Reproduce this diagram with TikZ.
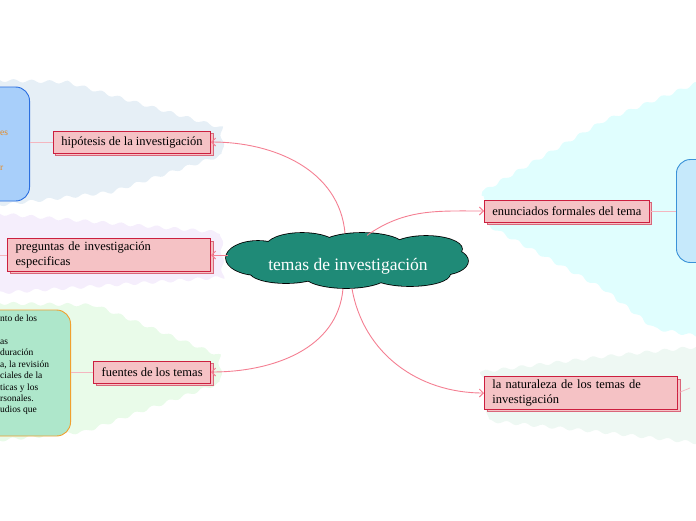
\documentclass[tikz,border=0pt]{standalone}
\usepackage{fontspec}
\setmainfont{Liberation Serif}
\usetikzlibrary{arrows.meta,positioning,shapes.geometric,shadows,decorations.pathmorphing}

\definecolor{rootfill}{HTML}{1F8A77}
\definecolor{boxfill}{HTML}{F5C2C5}
\definecolor{boxline}{HTML}{CC1F3F}
\definecolor{shadowline}{HTML}{D9667A}
\definecolor{linkpink}{HTML}{F47F92}
\definecolor{palepink}{HTML}{F4B6BF}
\definecolor{blobgray}{HTML}{E6EFF6}
\definecolor{blobviolet}{HTML}{F5EEFC}
\definecolor{blobgreen}{HTML}{E9FBE9}
\definecolor{blobcyan}{HTML}{E0FEFE}
\definecolor{blobmint}{HTML}{EEF8F3}
\definecolor{cardblue}{HTML}{A8CFFA}
\definecolor{cardblueline}{HTML}{2B6FE0}
\definecolor{cardgreen}{HTML}{AEE7CB}
\definecolor{cardorange}{HTML}{F0A030}
\definecolor{cardsky}{HTML}{C6E9FB}
\definecolor{cardskyline}{HTML}{3A92D8}
\definecolor{notetext}{HTML}{E88A20}

% puffs of the central cloud: x/y/x radius/y radius
\def\cloudpuffs{258/258/32/17, 302/247/36/14, 362/246/42/13, 426/249/36/13,
    440/261/28/14, 410/274/40/12, 346/275/42/13, 286/272/36/11}

\begin{document}
\begin{tikzpicture}[
    x=1pt, y=-1pt,
    root/.style={
        ellipse,
        text=white,
        minimum width=240pt,
        minimum height=55pt,
        inner sep=0pt,
        text height=18pt,
        text depth=0pt,
        font=\fontsize{17.5}{20}\selectfont
    },
    topic/.style={
        draw=boxline,
        fill=boxfill,
        rectangle,
        line width=0.8pt,
        minimum height=22pt,
        inner xsep=8pt,
        align=left,
        font=\fontsize{12.5}{14.5}\selectfont,
        copy shadow={shadow xshift=2.5pt, shadow yshift=-2.5pt,
            draw=shadowline, fill=boxfill}
    },
    card/.style={
        rectangle,
        rounded corners=14pt,
        line width=0.9pt
    },
    blob/.style={
        decorate,
        decoration={snake, amplitude=1.6pt, segment length=18pt}
    },
    arrow/.style={
        -{Straight Barb[length=4pt]},
        draw=linkpink,
        line width=0.9pt
    },
    link/.style={
        draw=palepink,
        line width=0.7pt
    }
]
\useasboundingbox (0,0) rectangle (696,520);

% Background blobs
\fill[blobgray, blob]   (-10,80) -- (60,82) -- (216,128) -- (218,160) -- (110,196) -- (-10,210) -- cycle;
\fill[blobviolet, blob] (-10,213) -- (216,232) -- (218,280) -- (-10,296) -- cycle;
\fill[blobgreen, blob]  (-10,303) -- (90,305) -- (216,356) -- (218,386) -- (90,432) -- (-10,442) -- cycle;
\fill[blobcyan, blob]   (482,192) -- (600,123) -- (706,80) -- (706,342) -- (650,332) -- (600,293) -- (482,228) -- cycle;
\fill[blobmint, blob]   (480,372) -- (600,357) -- (706,346) -- (706,442) -- (600,430) -- (480,418) -- cycle;

% Cards (cut by the page edge)
\node[card, draw=cardblueline, fill=cardblue, anchor=east,
      minimum width=100pt, minimum height=114pt] at (30,144) (hypcard) {};
\node[card, draw=cardorange, fill=cardgreen, anchor=east,
      minimum width=140pt, minimum height=126pt] at (71,373) (srccard) {};
\node[card, draw=cardskyline, fill=cardsky, anchor=west,
      minimum width=80pt, minimum height=103pt] at (676,211) (stmcard) {};
\coordinate (natcard) at (690,388);

% Card texts
\node[anchor=west, inner sep=0pt, text=notetext, font=\fontsize{9.5}{11}\selectfont]
    at (0,133) (hypnote1) {es};
\node[anchor=west, inner sep=0pt, text=notetext, font=\fontsize{9.5}{11}\selectfont]
    at (0,168) (hypnote2) {r};
\node[anchor=north west, inner sep=0pt, align=left,
      font=\fontsize{9.5}{11.4}\selectfont]
    at (0,315) (srcnote) {nto de los\\[0pt] \\as\\duración\\a, la revisión\\ciales de la\\ticas y los\\rsonales.\\udios que};

% Central topic: outline of the puffs, then their fill
\foreach \cx/\cy/\rx/\ry in \cloudpuffs
    \draw[line width=1.6pt] (\cx,\cy) ellipse [x radius=\rx, y radius=\ry];
\foreach \cx/\cy/\rx/\ry in \cloudpuffs
    \fill[rootfill] (\cx,\cy) ellipse [x radius=\rx, y radius=\ry];
\fill[rootfill] (348,261) ellipse [x radius=100, y radius=18];
\node[root] at (348,261) (main) {temas de investigación};

% Left branches
\node[topic, anchor=east] at (211,142) (hyp) {hipótesis de la investigación};
\node[topic, anchor=east, text width=187pt] at (211,255) (ask) {preguntas de investigación\\especificas};
\node[topic, anchor=east] at (211,372) (src) {fuentes de los temas};

% Right branches
\node[topic, anchor=west] at (484,211) (stm) {enunciados formales del tema};
\node[topic, anchor=west, text width=177pt] at (484,393) (nat) {la naturaleza de los temas de\\investigación};

% Arrows from the central topic
\draw[arrow] ([xshift=-3pt]main.north) to[out=95, in=0] (hyp.east);
\draw[arrow] (main.west |- ask.east) -- (ask.east);
\draw[arrow] ([xshift=-5pt]main.south) to[out=-95, in=0] (src.east);
\draw[arrow] ([xshift=19pt,yshift=-2pt]main.north) to[out=35, in=180] (stm.west);
\draw[arrow] ([xshift=4pt]main.south) to[out=-80, in=180] (nat.west);

% Links to the cards
\draw[link] (hyp.west) -- (hypcard.east |- hyp.west);
\draw[link] (ask.west) -- ++(-10,0);
\draw[link] (src.west) -- (srccard.east |- src.west);
\draw[link] (stm.east) -- (stmcard.west |- stm.east);
\draw[link] (nat.east) -- (natcard);

\end{tikzpicture}
\end{document}
